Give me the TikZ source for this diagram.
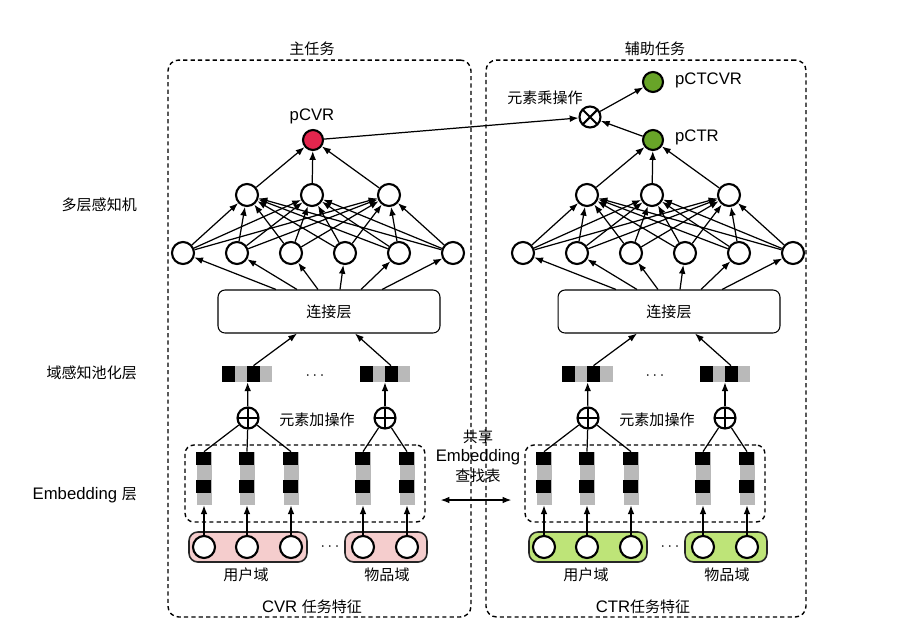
\documentclass[tikz,border=0pt]{standalone}
\usepackage{fontspec}
\setmainfont{Liberation Sans}
\newfontfamily\cjk[Scale=0.9]{Noto Sans CJK SC}
\usepackage{tikz}
\usetikzlibrary{arrows.meta, calc}
\usepackage{xcolor}
\definecolor{cvrred}{RGB}{228,38,78}
\definecolor{ctrgreen}{RGB}{104,164,40}
\definecolor{pinkfill}{RGB}{245,205,205}
\definecolor{limefill}{RGB}{190,228,120}
\tikzset{
  panel/.style={rectangle, rounded corners=6pt, draw, line width=0.8pt,
                dash pattern=on 2.4pt off 1.8pt, inner sep=0pt},
  neuron/.style={circle, draw, line width=1.2pt, fill=white,
                 minimum size=0.44cm, inner sep=0pt},
  plusop/.style={neuron, minimum size=0.42cm,
                 path picture={\draw[line width=1.2pt]
                   (path picture bounding box.north) -- (path picture bounding box.south)
                   (path picture bounding box.west) -- (path picture bounding box.east);}},
  timesop/.style={neuron, minimum size=0.42cm,
                  path picture={\draw[line width=1.2pt]
                    (path picture bounding box.north west) -- (path picture bounding box.south east)
                    (path picture bounding box.south west) -- (path picture bounding box.north east);}},
  catbox/.style={rectangle, rounded corners=4pt, draw, line width=0.6pt,
                 minimum width=4.44cm, minimum height=0.86cm},
  embcol/.style={rectangle, fill=gray!55, minimum width=0.3cm,
                 minimum height=1.06cm, inner sep=0pt},
  poolvec/.style={rectangle, fill=gray!55, minimum width=1.0cm,
                  minimum height=0.32cm, inner sep=0pt},
  grp/.style={rectangle, rounded corners=5pt, draw=black!85, line width=0.9pt,
              minimum height=0.6cm},
  arr/.style={-{Latex[length=5pt,width=3.8pt]}, line width=0.7pt},
  ln/.style={line width=0.7pt},
}
\begin{document}
\begin{tikzpicture}[x=0.02cm, y=-0.02cm,
                    every node/.style={font=\fontsize{9.5}{11}\selectfont}]
  \useasboundingbox (0,0) rectangle (899,633);
  % task panels
  \node[panel, minimum width=6.06cm, minimum height=11.14cm] (mainP) at (319.5,338.5) {};
  \node[panel, minimum width=6.4cm, minimum height=11.14cm] (auxP) at (646,338.5) {};
  \node (mainTitle) at (312,49) {\cjk 主任务};
  \node (auxTitle) at (655,49) {\cjk 辅助任务};
  \node (cvrFeat) at (312,607) {CVR {\cjk 任务特征}};
  \node (ctrFeat) at (643,607) {CTR{\cjk 任务特征}};
  % layer labels
  \node[anchor=east] (mlpLbl) at (143,205) {\cjk 多层感知机};
  \node[anchor=east] (poolLbl) at (143,373) {\cjk 域感知池化层};
  \node[anchor=east] (embLbl) at (143,495) {Embedding {\cjk 层}};
  % two towers
  \foreach \s/\ox/\gfill in {L/0/pinkfill, R/340/limefill} {
    % input fields
    \node[grp, fill=\gfill, minimum width=2.36cm] (grp\s1) at ({248+\ox},547) {};
    \node[grp, fill=\gfill, minimum width=1.64cm] (grp\s2) at ({386+\ox},547) {};
    \node (xdots\s) at ({330+\ox},547) {$\cdots$};
    \node (userLbl\s) at ({246+\ox},575) {\cjk 用户域};
    \node (itemLbl\s) at ({387+\ox},575) {\cjk 物品域};
    % embedding
    \node[panel, rounded corners=5pt, minimum width=4.8cm, minimum height=1.54cm]
      (emb\s) at ({305+\ox},483.5) {};
    \foreach \i/\px in {1/204,2/247,3/291,4/363,5/407} {
      \node[embcol] (e\s\i) at ({\px+\ox},478.5) {};
      \fill (e\s\i.north west) rectangle ++(15,13.5);
      \fill ($(e\s\i.north west)+(0,28)$) rectangle ++(15,13);
      \node[neuron] (x\s\i) at ({\px+\ox},547) {};
      \draw[arr] (x\s\i) -- (e\s\i);
    }
    % pooling
    \node[plusop] (add\s1) at ({248+\ox},418) {};
    \node[plusop] (add\s2) at ({385+\ox},418) {};
    \node (addLbl\s) at ({317+\ox},420) {\cjk 元素加操作};
    \foreach \i in {1,2,3} \draw[ln] (add\s1) -- (e\s\i.north);
    \foreach \i in {4,5} \draw[ln] (add\s2) -- (e\s\i.north);
    \node[poolvec] (pool\s1) at ({247.5+\ox},374) {};
    \node[poolvec] (pool\s2) at ({385+\ox},374) {};
    \foreach \k in {1,2} {
      \fill (pool\s\k.north west) rectangle ++(13,16);
      \fill ($(pool\s\k.north west)+(25,0)$) rectangle ++(13,16);
    }
    \node (pdots\s) at ({315+\ox},376) {$\cdots$};
    \draw[arr] (add\s1) -- (pool\s1);
    \draw[arr] (add\s2) -- (pool\s2);
    % concat + MLP
    \node[catbox] (cat\s) at ({329+\ox},311.5) {\cjk 连接层};
    \draw[arr] ($(pool\s1.north)+(6,0)$) -- ($(cat\s.south)+(-32,0)$);
    \draw[arr] ($(pool\s2.north)+(6,0)$) -- ($(cat\s.south)+(26,0)$);
    \foreach \i in {1,...,6}
      \node[neuron] (h\s\i) at ({129+54*\i+\ox},253) {};
    \foreach \j/\px in {1/247,2/312,3/389}
      \node[neuron] (g\s\j) at ({\px+\ox},195) {};
    \foreach \i/\dx in {1/-53,2/-32,3/-11,4/11,5/32,6/53}
      \draw[arr] ($(cat\s.north)+(\dx,0)$) -- (h\s\i);
    \foreach \i in {1,...,6}
      \foreach \j in {1,2,3}
        \draw[arr] (h\s\i) -- (g\s\j);
  }
  % outputs
  \node[neuron, minimum size=0.4cm, fill=cvrred] (pcvr) at (313,140) {};
  \node (pcvrLbl) at (312,116) {pCVR};
  \node[neuron, minimum size=0.4cm, fill=ctrgreen] (pctr) at (653,140) {};
  \node[anchor=west] (pctrLbl) at (669,137) {pCTR};
  \node[neuron, minimum size=0.4cm, fill=ctrgreen] (pctcvr) at (653,82) {};
  \node[anchor=west] (pctcvrLbl) at (669,80) {pCTCVR};
  \node[timesop] (mul) at (590,117) {};
  \node (mulLbl) at (545,98) {\cjk 元素乘操作};
  \foreach \j in {1,2,3} {
    \draw[arr] (gL\j) -- (pcvr);
    \draw[arr] (gR\j) -- (pctr);
  }
  \draw[arr] (pcvr) -- (mul);
  \draw[arr] (pctr) -- (mul);
  \draw[arr] (mul) -- (pctcvr);
  % shared lookup table
  \node[align=center, font=\fontsize{9.5}{11}\selectfont] (shareLbl) at (478,456)
    {{\cjk 共享}\\Embedding\\{\cjk 查找表}};
  \draw[{Latex[length=5pt,width=3.8pt]}-{Latex[length=5pt,width=3.8pt]}, line width=0.7pt]
    ($(embL.east)+(15,16.5)$) -- ($(embR.west)+(-13,16.5)$);
\end{tikzpicture}
\end{document}
